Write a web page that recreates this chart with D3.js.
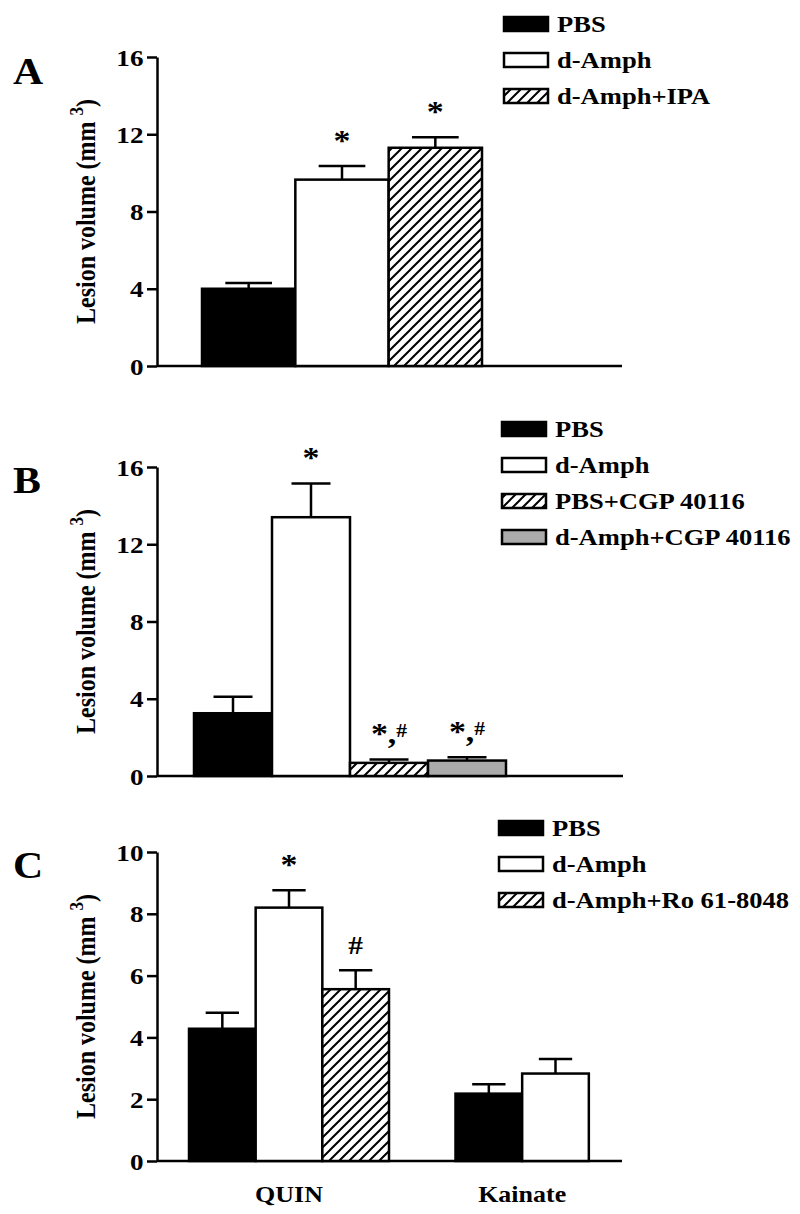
<!DOCTYPE html>
<html><head><meta charset="utf-8">
<script src="https://cdn.jsdelivr.net/npm/d3@7"></script>
<style>
body{margin:0;background:#fff}
svg text{font-family:"Liberation Serif","Times New Roman",serif;font-weight:bold;fill:#000}
</style>
</head><body>
<svg id="c" width="800" height="1214"></svg>
<script>
// ---------- data ----------
const seriesA = ["PBS", "d-Amph", "d-Amph+IPA"];
const meansA = [4.0, 9.65, 11.3];
const semA = [0.3, 0.7, 0.55];
const marksA = ["", "*", "*"];
const ticksA = [0, 4, 8, 12, 16];

const seriesB = ["PBS", "d-Amph", "PBS+CGP 40116", "d-Amph+CGP 40116"];
const meansB = [3.25, 13.4, 0.68, 0.8];
const semB = [0.85, 1.75, 0.18, 0.17];
const marksB = ["", "*", "*,#", "*,#"];
const ticksB = [0, 4, 8, 12, 16];

const categoriesC = ["QUIN", "Kainate"];
const seriesC = ["PBS", "d-Amph", "d-Amph+Ro 61-8048"];
const meansQuinC = [4.28, 8.2, 5.56];
const semQuinC = [0.52, 0.56, 0.61];
const marksQuinC = ["", "*", "#"];
const meansKainateC = [2.18, 2.83];
const semKainateC = [0.3, 0.47];
const marksKainateC = ["", ""];
const ticksC = [0, 2, 4, 6, 8, 10];

const panelLetters = ["A", "B", "C"];
const yLabelText = "Lesion volume (mm";
const yLabelSup = "3";

// ---------- styles ----------
const SX = 1.13;
const fills = ["#000", "#fff", "url(#hatch)", "#ababab"];
const fillsC = ["#000", "#fff", "url(#hatch)"];

const svg = d3.select("#c");
const defs = svg.append("defs");
const pat = defs.append("pattern").attr("id", "hatch")
  .attr("patternUnits", "userSpaceOnUse").attr("width", 10).attr("height", 10);
pat.append("rect").attr("width", 10).attr("height", 10).attr("fill", "#fff");
pat.append("path").attr("d", "M-2,2 L2,-2 M0,10 L10,0 M8,12 L12,8")
  .attr("stroke", "#000").attr("stroke-width", 2);

function txt(g, x, y, s, size, anchor) {
  return g.append("text")
    .attr("transform", `translate(${x},${y}) scale(${SX},1)`)
    .attr("text-anchor", anchor || "start")
    .style("font-size", size + "px")
    .text(s);
}

function drawAxis(p) {
  const y = d3.scaleLinear().domain([0, d3.max(p.ticks)]).range([p.yBottom, p.yTop]);
  const g = svg.append("g");
  const ax = g.append("g").attr("transform", `translate(${p.axisX},0)`)
    .call(d3.axisLeft(y).tickValues(p.ticks).tickSize(10).tickSizeOuter(0).tickPadding(2));
  ax.attr("font-family", null).attr("font-size", null);
  ax.select(".domain").attr("stroke", "#000").attr("stroke-width", 2.5);
  ax.selectAll(".tick line").attr("stroke", "#000").attr("stroke-width", 2.5);
  ax.selectAll(".tick text").attr("transform", `scale(${SX},1)`)
    .style("font-size", "24px").attr("dy", "0.34em");
  // baseline
  g.append("line").attr("x1", p.axisX).attr("x2", p.xEnd)
    .attr("y1", y(0)).attr("y2", y(0)).attr("stroke", "#000").attr("stroke-width", 2.5);
  // y label
  const cy = (p.yTop + p.yBottom) / 2;
  const lab = g.append("text")
    .attr("transform", `translate(${p.labelX},${cy}) scale(${SX},1) rotate(-90)`)
    .attr("text-anchor", "middle").style("font-size", "24px");
  lab.append("tspan").text(yLabelText + " ");
  lab.append("tspan").attr("dy", -11).style("font-size", "17px").text(yLabelSup);
  lab.append("tspan").attr("dy", 11).text(")");
  // panel letter
  txt(g, p.letterX, p.letterY, p.letter, 37, "start");
  return {g, y};
}

function drawBars(g, y, xs, names, means, sems, marks, fillArr) {
  const bw = xs.bandwidth();
  names.forEach((n, i) => {
    const x0 = xs(n);
    const cx = x0 + bw / 2;
    const m = means[i], e = sems[i];
    // error bar
    g.append("line").attr("x1", cx).attr("x2", cx).attr("y1", y(m)).attr("y2", y(m + e))
      .attr("stroke", "#000").attr("stroke-width", 2.5);
    g.append("line").attr("x1", cx - bw / 4).attr("x2", cx + bw / 4)
      .attr("y1", y(m + e)).attr("y2", y(m + e)).attr("stroke", "#000").attr("stroke-width", 2.5);
    g.append("rect").attr("x", x0).attr("y", y(m)).attr("width", bw).attr("height", y(0) - y(m))
      .attr("fill", fillArr[i]).attr("stroke", "#000").attr("stroke-width", 2.5);
    const mk = marks[i];
    if (mk) {
      const t = g.append("text")
        .attr("transform", `translate(${cx},${y(m + e) - 16}) scale(${SX},1)`)
        .attr("text-anchor", "middle").style("font-size", "30px");
      if (mk.indexOf(",#") >= 0) {
        t.append("tspan").text("*,");
        t.append("tspan").attr("dy", -6).style("font-size", "19px").text("#");
      } else if (mk === "#") {
        t.style("font-size", "26px").text(mk);
      } else {
        t.text(mk);
      }
    }
  });
}

function drawLegend(x, y0, names, fillArr) {
  const g = svg.append("g");
  names.forEach((n, i) => {
    const yy = y0 + i * 36;
    g.append("rect").attr("x", x).attr("y", yy).attr("width", 44).attr("height", 14)
      .attr("fill", fillArr[i]).attr("stroke", "#000").attr("stroke-width", 2.5);
    txt(g, x + 53, yy + 15, n, 23.5, "start");
  });
}

// ---------- Panel A ----------
{
  const {g, y} = drawAxis({ticks: ticksA, yTop: 57, yBottom: 366, axisX: 157, xEnd: 622,
    labelX: 95, letter: panelLetters[0], letterX: 13, letterY: 84});
  const xs = d3.scaleBand().domain(seriesA).range([202, 482]).padding(0);
  drawBars(g, y, xs, seriesA, meansA, semA, marksA, fills);
  drawLegend(504, 17, seriesA, fills);
}
// ---------- Panel B ----------
{
  const {g, y} = drawAxis({ticks: ticksB, yTop: 467, yBottom: 776, axisX: 157, xEnd: 623,
    labelX: 95, letter: panelLetters[1], letterX: 13, letterY: 493});
  const xs = d3.scaleBand().domain(seriesB).range([194, 506]).padding(0);
  drawBars(g, y, xs, seriesB, meansB, semB, marksB, fills);
  drawLegend(502, 422, seriesB, fills);
}
// ---------- Panel C ----------
{
  const {g, y} = drawAxis({ticks: ticksC, yTop: 852, yBottom: 1161, axisX: 157, xEnd: 622,
    labelX: 95, letter: panelLetters[2], letterX: 13, letterY: 878});
  const groupW = 266.5;
  const xg = d3.scaleBand().domain(categoriesC).range([189, 189 + groupW * categoriesC.length]).padding(0);
  const xi = d3.scaleBand().domain(seriesC).range([0, 200]).padding(0);
  const groups = [
    {cat: categoriesC[0], means: meansQuinC, sems: semQuinC, marks: marksQuinC},
    {cat: categoriesC[1], means: meansKainateC, sems: semKainateC, marks: marksKainateC}
  ];
  groups.forEach(gr => {
    const names = seriesC.slice(0, gr.means.length);
    const xs = d3.scaleBand().domain(names)
      .range([xg(gr.cat), xg(gr.cat) + xi.bandwidth() * names.length]).padding(0);
    drawBars(g, y, xs, names, gr.means, gr.sems, gr.marks, fillsC);
    txt(g, xg(gr.cat) + xi.bandwidth() * names.length / 2, 1202, gr.cat, 23, "middle");
  });
  drawLegend(499, 821, seriesC, fillsC);
}
</script>
</body></html>
